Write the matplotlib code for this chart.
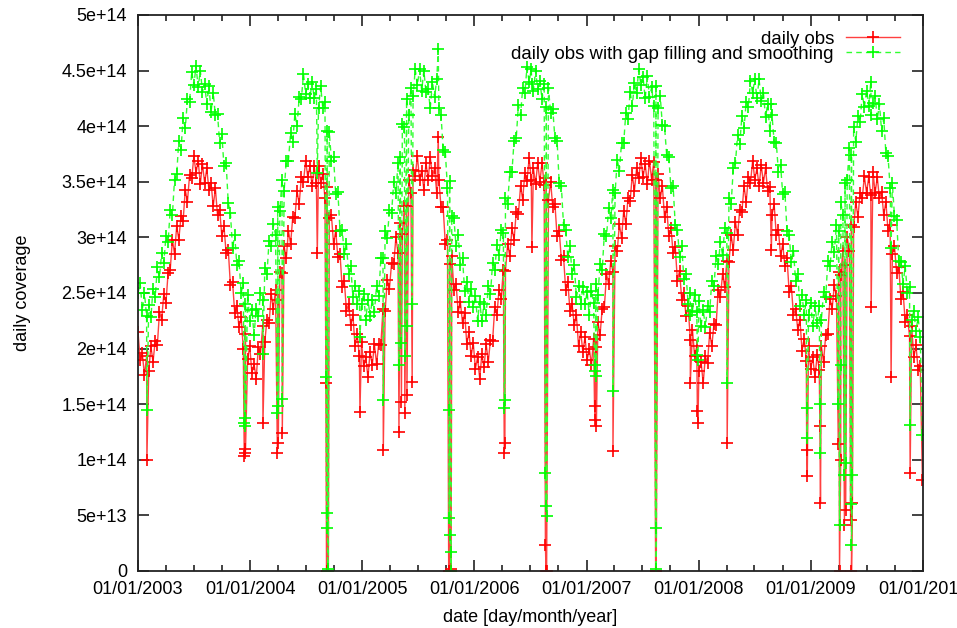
import matplotlib
matplotlib.use("Agg")
import matplotlib.pyplot as plt
import matplotlib.dates as mdates
from matplotlib.ticker import FixedLocator, FixedFormatter
import pandas as pd

# weekly daily-coverage values, in units of 1e14, one list per year
obs_2003 = [2.15, 1.90, 1.96, 1.76, 1.93, 1.80, 2.02, 1.88, 2.07, 2.03, 2.33, 2.26, 2.49, 2.41, 2.68, 2.71, 2.98, 2.85, 3.10, 2.98, 3.19, 3.15, 3.43, 3.32, 3.56, 3.53,
            3.73, 3.58, 3.69, 3.48, 3.66, 3.49, 3.62, 3.43, 3.49, 3.28, 3.44, 3.20, 3.25, 3.01, 3.10, 2.86, 2.89, 2.57, 2.60, 2.32, 2.38, 2.19, 2.28, 2.00, 2.13, 1.91]
obs_2004 = [2.02, 1.78, 1.86, 1.73, 2.01, 1.95, 2.20, 2.06, 2.26, 2.23, 2.49, 2.36, 2.53, 2.44, 2.69, 2.68, 2.92, 2.81, 3.06, 2.94, 3.18, 3.17, 3.42, 3.30, 3.54, 3.50,
            3.69, 3.54, 3.64, 3.46, 3.64, 3.49, 3.64, 3.49, 3.57, 3.35, 3.45, 3.17, 3.20, 2.94, 3.06, 2.82, 2.85, 2.55, 2.61, 2.34, 2.40, 2.21, 2.30, 2.02, 2.13, 1.93]
obs_2005 = [2.06, 1.84, 1.92, 1.74, 1.97, 1.85, 2.04, 1.86, 2.04, 2.03, 2.36, 2.34, 2.62, 2.54, 2.77, 2.76, 3.00, 2.86, 3.13, 3.03, 3.28, 3.28, 3.52, 3.40, 3.61, 3.55,
            3.73, 3.52, 3.60, 3.43, 3.67, 3.52, 3.72, 3.55, 3.62, 3.40, 3.52, 3.27, 3.27, 2.94, 2.98, 2.76, 2.83, 2.53, 2.58, 2.33, 2.42, 2.23, 2.32, 2.04, 2.15, 1.93]
obs_2006 = [2.05, 1.82, 1.92, 1.73, 1.95, 1.83, 2.04, 1.88, 2.08, 2.07, 2.37, 2.30, 2.53, 2.45, 2.71, 2.70, 2.94, 2.83, 3.08, 2.98, 3.23, 3.21, 3.46, 3.34, 3.58, 3.51,
            3.71, 3.52, 3.62, 3.48, 3.67, 3.50, 3.67, 3.47, 3.53, 3.34, 3.50, 3.27, 3.30, 3.01, 3.06, 2.80, 2.83, 2.53, 2.60, 2.34, 2.40, 2.21, 2.30, 2.02, 2.15, 1.97]
obs_2007 = [2.10, 1.90, 2.00, 1.85, 2.09, 2.01, 2.24, 2.12, 2.36, 2.37, 2.67, 2.58, 2.79, 2.69, 2.92, 2.88, 3.12, 2.99, 3.24, 3.12, 3.35, 3.33, 3.56, 3.42, 3.62, 3.53,
            3.71, 3.54, 3.66, 3.48, 3.69, 3.52, 3.68, 3.52, 3.57, 3.35, 3.46, 3.18, 3.27, 3.01, 3.08, 2.86, 2.91, 2.61, 2.70, 2.44, 2.50, 2.29, 2.38, 2.08, 2.17, 1.93]
obs_2008 = [2.02, 1.80, 1.88, 1.69, 1.93, 1.87, 2.14, 2.02, 2.22, 2.21, 2.53, 2.46, 2.67, 2.55, 2.79, 2.78, 3.02, 2.89, 3.14, 3.02, 3.25, 3.23, 3.46, 3.32, 3.54, 3.49,
            3.69, 3.52, 3.62, 3.46, 3.65, 3.49, 3.62, 3.42, 3.45, 3.20, 3.30, 3.02, 3.07, 2.83, 2.94, 2.74, 2.81, 2.51, 2.56, 2.30, 2.36, 2.17, 2.26, 1.98, 2.09, 1.89]
obs_2009 = [2.02, 1.82, 1.92, 1.74, 1.94, 1.81, 2.02, 1.88, 2.12, 2.13, 2.45, 2.36, 2.57, 2.47, 2.69, 2.66, 2.88, 2.75, 3.00, 2.88, 3.11, 3.09, 3.32, 3.18, 3.40, 3.35,
            3.55, 3.40, 3.54, 3.38, 3.59, 3.40, 3.54, 3.35, 3.41, 3.20, 3.32, 3.06, 3.11, 2.85, 2.92, 2.68, 2.73, 2.45, 2.51, 2.24, 2.30, 2.11, 2.20, 1.92, 2.03, 1.81, 1.84]

filled_2003 = [2.50, 2.59, 2.35, 2.50, 2.29, 2.39, 2.28, 2.54, 2.46, 2.73, 2.64, 2.86, 2.77, 3.01, 2.96, 3.25, 3.20, 3.52, 3.57, 3.87, 3.79, 4.07, 3.98, 4.24, 4.22, 4.49,
               4.37, 4.54, 4.35, 4.50, 4.31, 4.38, 4.20, 4.36, 4.13, 4.30, 4.10, 4.11, 3.85, 3.93, 3.64, 3.67, 3.31, 3.22, 2.90, 3.02, 2.75, 2.79, 2.50, 2.59, 2.40, 2.48]
filled_2004 = [2.25, 2.35, 2.12, 2.36, 2.29, 2.50, 2.44, 2.72, 2.67, 2.97, 2.92, 3.12, 3.02, 3.27, 3.24, 3.52, 3.42, 3.69, 3.69, 3.94, 3.86, 4.11, 4.00, 4.26, 4.24, 4.47,
               4.29, 4.38, 4.25, 4.40, 4.25, 4.33, 4.16, 4.36, 4.16, 4.22, 3.96, 3.95, 3.69, 3.72, 3.39, 3.41, 3.06, 3.07, 2.85, 2.94, 2.67, 2.74, 2.46, 2.56, 2.40, 2.52]
filled_2005 = [2.40, 2.49, 2.26, 2.44, 2.29, 2.44, 2.33, 2.56, 2.47, 2.81, 2.81, 3.06, 2.99, 3.25, 3.22, 3.50, 3.40, 3.67, 3.72, 4.02, 3.99, 4.24, 4.10, 4.34, 4.27, 4.51,
               4.37, 4.51, 4.32, 4.50, 4.31, 4.33, 4.16, 4.40, 4.26, 4.42, 4.16, 4.10, 3.79, 3.77, 3.44, 3.51, 3.19, 3.17, 2.92, 3.02, 2.75, 2.81, 2.52, 2.60, 2.42, 2.54]
filled_2006 = [2.37, 2.47, 2.25, 2.42, 2.25, 2.40, 2.30, 2.56, 2.49, 2.77, 2.71, 2.93, 2.84, 3.07, 3.04, 3.35, 3.30, 3.59, 3.59, 3.87, 3.89, 4.19, 4.10, 4.34, 4.30, 4.53,
               4.40, 4.51, 4.32, 4.50, 4.33, 4.41, 4.24, 4.38, 4.17, 4.34, 4.12, 4.15, 3.89, 3.87, 3.49, 3.46, 3.11, 3.07, 2.82, 2.92, 2.67, 2.75, 2.46, 2.56, 2.40, 2.55]
filled_2007 = [2.40, 2.51, 2.30, 2.52, 2.41, 2.58, 2.48, 2.76, 2.71, 3.03, 3.01, 3.26, 3.17, 3.43, 3.40, 3.70, 3.60, 3.85, 3.85, 4.12, 4.06, 4.31, 4.18, 4.39, 4.30, 4.51,
               4.37, 4.44, 4.25, 4.45, 4.26, 4.35, 4.18, 4.36, 4.16, 4.27, 4.01, 4.00, 3.74, 3.72, 3.44, 3.46, 3.11, 3.07, 2.82, 2.92, 2.63, 2.67, 2.40, 2.50, 2.34, 2.48]
filled_2008 = [2.33, 2.43, 2.20, 2.35, 2.19, 2.38, 2.33, 2.61, 2.56, 2.83, 2.76, 2.96, 2.84, 3.08, 3.04, 3.35, 3.30, 3.62, 3.67, 3.92, 3.84, 4.09, 3.98, 4.22, 4.17, 4.41,
               4.30, 4.42, 4.25, 4.42, 4.23, 4.30, 4.08, 4.20, 3.96, 4.10, 3.86, 3.85, 3.59, 3.65, 3.39, 3.41, 3.06, 3.02, 2.78, 2.88, 2.61, 2.67, 2.38, 2.48, 2.30, 2.44]
filled_2009 = [2.30, 2.41, 2.20, 2.38, 2.23, 2.38, 2.26, 2.51, 2.46, 2.79, 2.74, 2.96, 2.87, 3.11, 3.06, 3.32, 3.20, 3.49, 3.52, 3.80, 3.74, 3.99, 3.86, 4.09, 4.04, 4.29,
               4.17, 4.32, 4.18, 4.40, 4.21, 4.27, 4.06, 4.20, 3.96, 4.07, 3.76, 3.73, 3.44, 3.49, 3.19, 3.16, 2.79, 2.78, 2.58, 2.74, 2.50, 2.55, 2.26, 2.34, 2.16, 2.28, 2.10]

# single days with missing or partial coverage (units of 1e14)
spike_dates = ["2003-01-30", "2003-12-13", "2003-12-15", "2003-12-17", "2004-02-12", "2004-03-30", "2004-04-02",
               "2004-04-15", "2004-08-07", "2004-09-04", "2004-09-06", "2004-09-08", "2004-09-10", "2004-09-12",
               "2004-12-24", "2005-03-10", "2005-04-30", "2005-05-08", "2005-05-19", "2005-05-26", "2005-06-12",
               "2005-09-05", "2005-10-09", "2005-10-11", "2005-10-13", "2005-10-15", "2005-10-17", "2006-04-08",
               "2006-04-10", "2006-07-07", "2006-08-20", "2006-08-22", "2006-08-24", "2007-01-27", "2007-01-30",
               "2007-02-02", "2007-03-28", "2007-08-14", "2007-08-16", "2007-12-05", "2007-12-28", "2007-12-30",
               "2008-04-03", "2008-08-25", "2008-12-18", "2008-12-20", "2009-01-30", "2009-02-01", "2009-03-31",
               "2009-04-04", "2009-04-08", "2009-04-20", "2009-04-24", "2009-05-10", "2009-05-13", "2009-05-16",
               "2009-07-16", "2009-09-19", "2009-11-20", "2009-12-30"]
spike_obs = [1.00, 1.03, 1.10, 1.06, 1.33, 1.06, 1.15,
             1.24, 2.86, 1.69, 0.0, 0.0, 0.0, 0.0,
             1.43, 1.09, 1.25, 1.52, 1.42, 1.58, 1.70,
             3.90, 0.0, 0.0, 0.0, 0.0, 0.02, 1.06,
             1.15, 2.91, 0.23, 0.0, 0.0, 1.48, 1.36,
             1.30, 1.08, 0.0, 0.0, 1.69, 1.44, 1.33,
             1.15, 2.89, 1.09, 0.85, 1.30, 0.61, 1.14,
             0.0, 1.00, 0.41, 0.55, 0.46, 0.0, 0.61,
             2.37, 1.74, 0.88, 0.82]
spike_filled = [1.45, 1.33, 1.38, 1.30, 1.95, 1.42, 1.48,
                1.55, 3.58, 1.74, 0.52, 0.39, 0.02, 0.0,
                2.10, 1.54, 1.85, 2.05, 1.93, 2.20, 2.40,
                4.69, 1.45, 0.48, 0.32, 0.17, 0.0, 1.47,
                1.54, 4.38, 0.88, 0.58, 0.49, 1.85, 1.80,
                1.75, 1.62, 0.39, 0.02, 2.30, 1.94, 1.90,
                1.69, 4.20, 1.47, 1.20, 1.50, 1.06, 1.50,
                0.41, 1.85, 0.86, 0.97, 0.60, 0.23, 0.86,
                4.10, 2.90, 1.31, 1.22]

y_ticks = [0, 0.5, 1.0, 1.5, 2.0, 2.5, 3.0, 3.5, 4.0, 4.5, 5.0]
y_tick_labels = ["0", "5e+13", "1e+14", "1.5e+14", "2e+14", "2.5e+14", "3e+14",
                 "3.5e+14", "4e+14", "4.5e+14", "5e+14"]
x_years = [2003, 2004, 2005, 2006, 2007, 2008, 2009, 2010]

plt.rcParams["font.family"] = ["Liberation Sans", "DejaVu Sans"]
plt.rcParams["font.size"] = 13

obs_weekly = obs_2003 + obs_2004 + obs_2005 + obs_2006 + obs_2007 + obs_2008 + obs_2009
filled_weekly = (filled_2003 + filled_2004 + filled_2005 + filled_2006 + filled_2007
                 + filled_2008 + filled_2009)
week_dates = pd.date_range("2003-01-01", periods=len(obs_weekly), freq="7D")

df = pd.DataFrame({
    "date": list(week_dates) + list(pd.to_datetime(spike_dates)),
    "obs": obs_weekly + spike_obs,
    "filled": filled_weekly + spike_filled,
}).sort_values("date")

scale = 1e14
fig = plt.figure(figsize=(9.57, 6.28), dpi=100)
ax = fig.add_axes([0.1442, 0.0908, 0.8203, 0.8854])

ax.plot(df["date"], df["obs"] * scale, color="#ff4040", lw=1.0, marker="+",
        ms=8, mew=1.2, mec="#ff0000", label="daily obs")
ax.plot(df["date"], df["filled"] * scale, color="#30ff30", lw=1.0, ls=(0, (4, 3)),
        marker="+", ms=8, mew=1.2, mec="#00ff00",
        label="daily obs with gap filling and smoothing")

ax.set_xlim(pd.Timestamp("2003-01-01"), pd.Timestamp("2010-01-01"))
ax.set_ylim(0, 5 * scale)

ax.yaxis.set_major_locator(FixedLocator([v * scale for v in y_ticks]))
ax.yaxis.set_major_formatter(FixedFormatter(y_tick_labels))
ax.xaxis.set_major_locator(FixedLocator([mdates.date2num(pd.Timestamp(f"{y}-01-01")) for y in x_years]))
ax.xaxis.set_major_formatter(FixedFormatter([f"01/01/{y}" for y in x_years]))
ax.xaxis.set_minor_locator(mdates.MonthLocator(bymonth=[4, 7, 10]))

ax.tick_params(which="both", direction="in", top=True, right=True, color="#222222", width=1.2)
ax.tick_params(which="major", length=8)
ax.tick_params(which="minor", length=4)
ax.tick_params(axis="y", pad=8, labelsize=13)
ax.tick_params(axis="x", pad=7, labelsize=13)
for spine in ax.spines.values():
    spine.set_linewidth(1.3)
    spine.set_color("#222222")

ax.set_xlabel("date [day/month/year]", fontsize=13, labelpad=8)
ax.set_ylabel("daily coverage", fontsize=13, labelpad=22)

ax.legend(loc="upper right", bbox_to_anchor=(0.9707, 0.972), frameon=False,
          markerfirst=False, numpoints=1, handlelength=2.9, handletextpad=0.65,
          labelspacing=-0.1, borderpad=0, borderaxespad=0, fontsize=13.4)

fig.savefig("out.png", dpi=100)
